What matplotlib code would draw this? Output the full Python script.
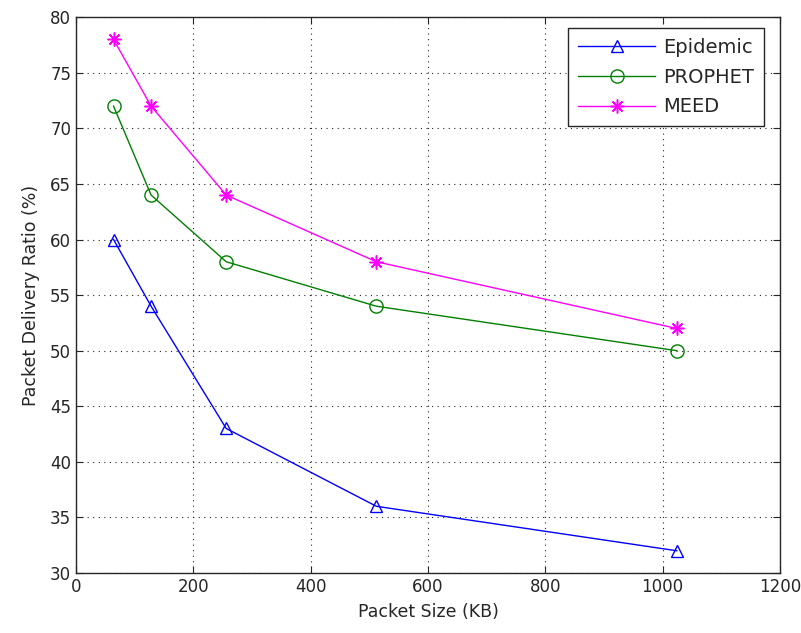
import matplotlib
matplotlib.use("Agg")
import matplotlib.pyplot as plt

packet_size = [64, 128, 256, 512, 1024]
epidemic = [60, 54, 43, 36, 32]
prophet = [72, 64, 58, 54, 50]
meed = [78, 72, 64, 58, 52]

plt.rcParams['font.family'] = ['DejaVu Sans']
plt.rcParams['font.size'] = 12

fig = plt.figure(figsize=(8.01, 6.33), dpi=100)
ax = fig.add_axes([0.0949, 0.0948, 0.8789, 0.878])

ax.plot(packet_size, epidemic, color='#0000ff', marker='^', markersize=9,
        markerfacecolor='none', markeredgecolor='#0000ff', linewidth=1, label='Epidemic')
ax.plot(packet_size, prophet, color='#008000', marker='o', markersize=9.5,
        markerfacecolor='none', markeredgecolor='#008000', linewidth=1, label='PROPHET')
ax.plot(packet_size, meed, color='#ff00ff', marker=(8, 2, 0), markersize=10,
        markeredgewidth=1.1, markeredgecolor='#ff00ff', linewidth=1, label='MEED')

ax.set_xlim(0, 1200)
ax.set_ylim(30, 80)
ax.set_xticks(range(0, 1201, 200))
ax.set_yticks(range(30, 81, 5))
ax.grid(True, color='#262626', linestyle=(0, (1, 4)), linewidth=0.8)
ax.tick_params(direction='in', length=5, top=True, right=True, color='#262626',
               labelcolor='#262626', labelsize=12)
for s in ax.spines.values():
    s.set_color('#262626')
    s.set_linewidth(1)

ax.set_xlabel('Packet Size (KB)', fontsize=12.5, color='#262626', labelpad=5)
ax.set_ylabel('Packet Delivery Ratio (%)', fontsize=12.5, color='#262626', labelpad=7)

leg = ax.legend(loc='upper right', fancybox=False, edgecolor='#262626',
                framealpha=1, bbox_to_anchor=(0.977, 0.98), borderaxespad=0,
                handlelength=4.0, handletextpad=0.4, labelspacing=0.55,
                borderpad=0.5, fontsize=14)
leg.get_frame().set_linewidth(1)
for t in leg.get_texts():
    t.set_color('#262626')

fig.savefig('out.png', dpi=100)
